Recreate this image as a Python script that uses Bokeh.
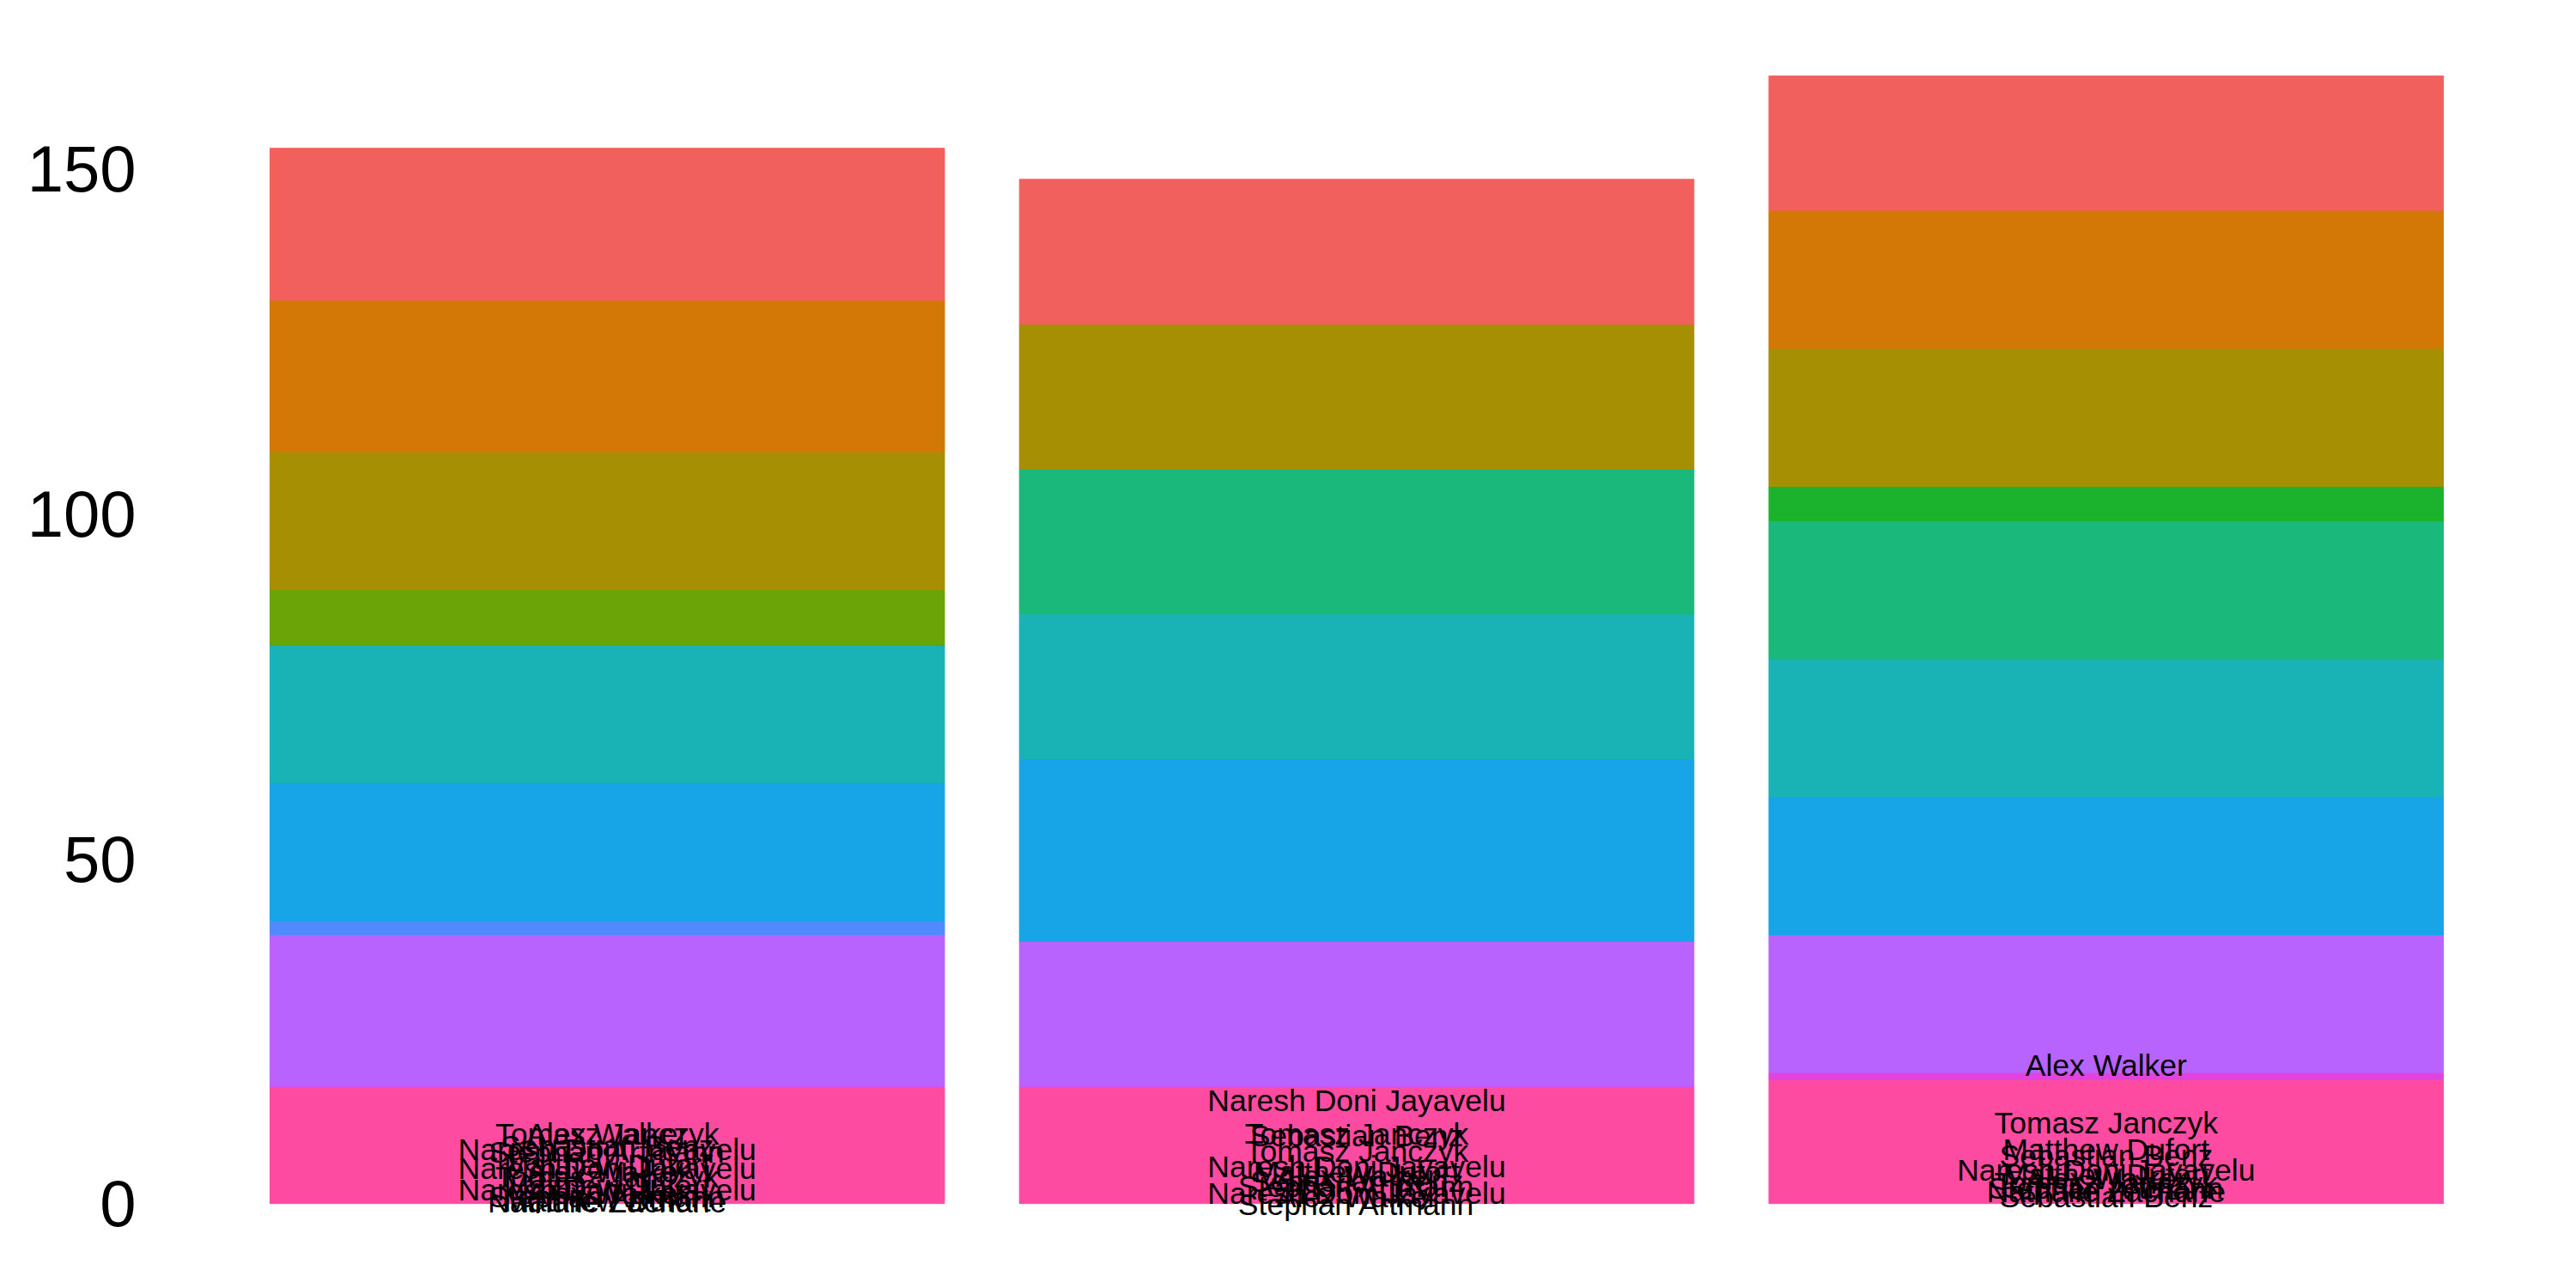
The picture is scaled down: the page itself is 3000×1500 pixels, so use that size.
from bokeh.plotting import figure
from bokeh.models import ColumnDataSource, FactorRange, Range1d, FixedTicker
from bokeh.core.properties import value
from bokeh.embed import file_html
from bokeh.resources import INLINE

# ---- data ----
bars = ["Bar 1", "Bar 2", "Bar 3"]

# fill groups, bottom of stack first
groups = ["Group 12", "Group 11", "Group 10", "Group 9", "Group 8", "Group 7",
          "Group 6", "Group 5", "Group 4", "Group 3", "Group 2", "Group 1"]
group_colors = ["#FC4BA1", "#E044DC", "#B963FF", "#4F8BFF", "#17A5E8", "#1AB3B5",
                "#1AB87A", "#1BB22E", "#6AA406", "#A68F02", "#D37806", "#F2605E"]

# segment heights per bar (same order as groups)
bar1_values = [17, 0, 22, 2, 20, 20, 0, 0, 8, 20, 22, 22]
bar2_values = [17, 0, 21, 0, 26.5, 21, 21, 0, 0, 21, 0, 21]
bar3_values = [18, 1, 20, 0, 20, 20, 20, 5, 0, 20, 20, 19.5]

# text labels (bar, name, y value)
label_bar = (["Bar 1"] * 15) + (["Bar 2"] * 12) + (["Bar 3"] * 11)
label_name = [
    "Tomasz Janczyk", "Alex Walker", "Sebastian Benz", "Naresh Doni Jayavelu", "Stephan Artmann",
    "Matthew Dufort", "Naresh Doni Jayavelu", "Alex Walker", "Tomasz Janczyk", "Matthew Dufort",
    "Naresh Doni Jayavelu", "Alex Walker", "Stephan Artmann", "Matthew Dufort", "Nathalie Zacharie",
    "Naresh Doni Jayavelu", "Tomasz Janczyk", "Sebastian Benz", "Tomasz Janczyk", "Naresh Doni Jayavelu",
    "Matthew Dufort", "Alex Walker", "Sebastian Benz", "Stephan Artmann", "Naresh Doni Jayavelu",
    "Alex Walker", "Stephan Artmann",
    "Alex Walker", "Tomasz Janczyk", "Matthew Dufort", "Sebastian Benz", "Naresh Doni Jayavelu",
    "Matthew Dufort", "Alex Walker", "Tomasz Janczyk", "Stephan Artmann", "Nathalie Zacharie",
    "Sebastian Benz",
]
label_y = [
    10.1, 10.1, 8.3, 7.8, 7.4,
    5.5, 5.1, 4.6, 3.8, 2.6,
    2.0, 1.5, 0.9, 0.3, 0.2,
    14.9, 10.0, 9.8, 7.5, 5.3,
    4.6, 3.9, 3.2, 2.5, 1.4,
    0.9, -0.2,
    20.0, 11.7, 7.8, 6.9, 4.8,
    4.2, 3.6, 2.9, 2.2, 1.7,
    0.9,
]

# ---- build ----
data = {"bar": bars}
for i, g in enumerate(groups):
    data[g] = [bar1_values[i], bar2_values[i], bar3_values[i]]
src = ColumnDataSource(data)

lab_src = ColumnDataSource(dict(bar=label_bar, name=label_name, y=label_y))

p = figure(
    width=3000, height=1500,
    x_range=FactorRange(factors=bars, range_padding=0.1, range_padding_units="absolute"),
    y_range=Range1d(-8.2, 172.2),
    output_backend="svg", toolbar_location=None,
    min_border_left=183, min_border_right=24, min_border_top=18, min_border_bottom=33,
)

# fill and outline share the segment colour, so no seams appear between segments
p.vbar_stack(groups, x="bar", width=0.9, color=group_colors, line_width=1, source=src)

p.text(x="bar", y="y", text="name", source=lab_src,
       text_font=value("Liberation Sans"), text_font_size="35.5px",
       text_align="center", text_baseline="middle", text_color="black")

p.xaxis.visible = False
p.xgrid.visible = False
p.ygrid.visible = False
p.outline_line_color = None
p.background_fill_color = "white"
p.border_fill_color = "white"

ya = p.yaxis[0]
ya.ticker = FixedTicker(ticks=[0, 50, 100, 150])
ya.axis_line_color = None
ya.major_tick_line_color = None
ya.minor_tick_line_color = None
ya.major_tick_out = 0
ya.major_tick_in = 0
ya.major_label_standoff = 25
ya.major_label_text_font = "Liberation Sans"
ya.major_label_text_font_size = "76px"
ya.major_label_text_color = "black"

open("out.html", "w").write(file_html(p, INLINE))
